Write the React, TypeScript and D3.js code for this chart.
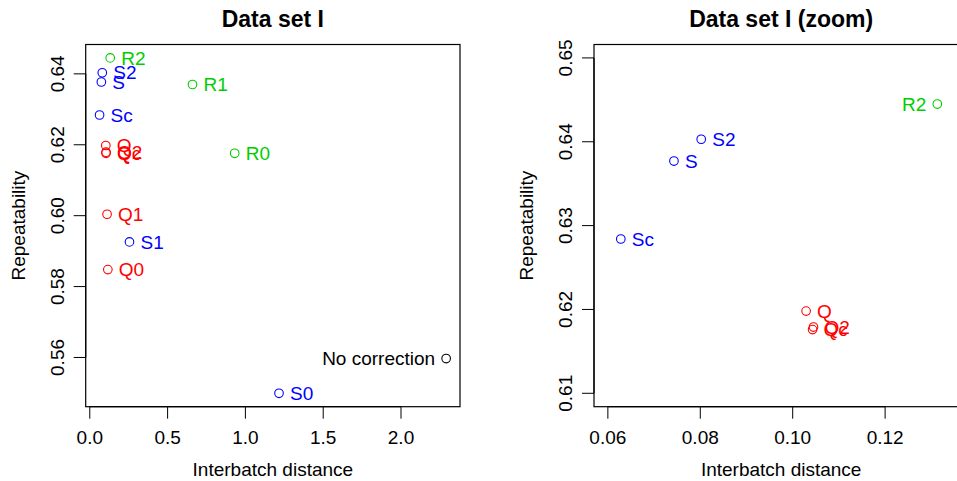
import React from "react";
import * as d3 from "d3";

// Data set I: interbatch distance vs repeatability
const labels = ["No correction", "Q", "Q0", "Q1", "Q2", "Qc", "S", "S0", "S1", "S2", "Sc", "R0", "R1", "R2"];
const groups = ["none", "Q", "Q", "Q", "Q", "Q", "S", "S", "S", "S", "S", "R", "R", "R"];
const distance = [2.29, 0.1029, 0.116, 0.111, 0.1045, 0.1043, 0.0743, 1.216, 0.255, 0.0802, 0.0628, 0.931, 0.66, 0.1313];
const repeatability = [0.5597, 0.6198, 0.5848, 0.6004, 0.6179, 0.6176, 0.6377, 0.5499, 0.5926, 0.6403, 0.6284, 0.6176, 0.637, 0.6445];
// label position: 2 = left of point, 4 = right of point
const labelPos = [2, 4, 4, 4, 4, 4, 4, 4, 4, 4, 4, 4, 4, 4];

const leftXTicks = [0, 0.5, 1, 1.5, 2];
const leftYTicks = [0.56, 0.58, 0.6, 0.62, 0.64];
const zoomXLim = [0.06, 0.135];
const zoomYLim = [0.61, 0.65];
const zoomXTicks = [0.06, 0.08, 0.1, 0.12];
const zoomYTicks = [0.61, 0.62, 0.63, 0.64, 0.65];
const zoomLabelPos = { R2: 2 } as Record<string, number>;

const colorOf: Record<string, string> = { none: "#000000", Q: "#FF0000", S: "#0000FF", R: "#00CD00" };
const FONT = "'Liberation Sans', Arial, Helvetica, sans-serif";
const FS = 19;

function ext(lim: number[]) {
  const r = lim[1] - lim[0];
  return [lim[0] - 0.04 * r, lim[1] + 0.04 * r];
}

type PanelProps = {
  left: number;
  right: number;
  top: number;
  bottom: number;
  xDomain: number[];
  yDomain: number[];
  xTicks: number[];
  yTicks: number[];
  xFmt: (v: number) => string;
  yFmt: (v: number) => string;
  title: string;
  zoom: boolean;
};

function Panel(p: PanelProps) {
  const x = d3.scaleLinear().domain(p.xDomain).range([p.left, p.right]);
  const y = d3.scaleLinear().domain(p.yDomain).range([p.bottom, p.top]);
  const tick = 12;
  const cx = (p.left + p.right) / 2;
  const cy = (p.top + p.bottom) / 2;
  const pts = labels
    .map((l, i) => ({ l, i, xv: distance[i], yv: repeatability[i] }))
    .filter(
      (d) => d.xv >= p.xDomain[0] && d.xv <= p.xDomain[1] && d.yv >= p.yDomain[0] && d.yv <= p.yDomain[1]
    );
  return (
    <g fontFamily={FONT}>
      <text x={cx} y={27} textAnchor="middle" fontWeight="bold" fontSize={23}>
        {p.title}
      </text>
      <rect x={p.left} y={p.top} width={p.right - p.left} height={p.bottom - p.top} fill="none" stroke="#000" strokeWidth={1.2} />
      {/* x axis */}
      <line x1={x(p.xTicks[0])} x2={x(p.xTicks[p.xTicks.length - 1])} y1={p.bottom} y2={p.bottom} stroke="#000" strokeWidth={1.2} />
      {p.xTicks.map((t) => (
        <g key={"xt" + t}>
          <line x1={x(t)} x2={x(t)} y1={p.bottom} y2={p.bottom + tick} stroke="#000" strokeWidth={1} />
          <text x={x(t)} y={443.5} textAnchor="middle" fontSize={FS}>
            {p.xFmt(t)}
          </text>
        </g>
      ))}
      <text x={cx} y={476} textAnchor="middle" fontSize={FS}>
        Interbatch distance
      </text>
      {/* y axis */}
      <line x1={p.left} x2={p.left} y1={y(p.yTicks[0])} y2={y(p.yTicks[p.yTicks.length - 1])} stroke="#000" strokeWidth={1.2} />
      {p.yTicks.map((t) => (
        <g key={"yt" + t}>
          <line x1={p.left - tick} x2={p.left} y1={y(t)} y2={y(t)} stroke="#000" strokeWidth={1} />
          <text
            transform={`translate(${p.left - 22},${y(t)}) rotate(-90)`}
            textAnchor="middle"
            fontSize={FS}
          >
            {p.yFmt(t)}
          </text>
        </g>
      ))}
      <text transform={`translate(${p.left - 61},${cy}) rotate(-90)`} textAnchor="middle" fontSize={FS}>
        Repeatability
      </text>
      {/* points */}
      <g>
        {pts.map((d) => {
          const pos = p.zoom ? zoomLabelPos[d.l] ?? 4 : labelPos[d.i];
          const col = colorOf[groups[d.i]];
          const px = x(d.xv);
          const py = y(d.yv);
          return (
            <g key={d.l}>
              <circle cx={px} cy={py} r={4.3} fill="none" stroke={col} strokeWidth={1.1} />
              <text
                x={pos === 4 ? px + 11 : px - 11}
                y={py}
                dy="0.35em"
                textAnchor={pos === 4 ? "start" : "end"}
                fontSize={FS}
                fill={col}
              >
                {d.l}
              </text>
            </g>
          );
        })}
      </g>
    </g>
  );
}

export default function App() {
  const leftX = ext([d3.min(distance)!, d3.max(distance)!]);
  const leftY = ext([d3.min(repeatability)!, d3.max(repeatability)!]);
  const f1 = d3.format(".1f");
  const f2 = d3.format(".2f");
  return (
    <svg
      width={957}
      height={481}
      style={{ position: "absolute", left: 0, top: 0, background: "#fff" }}
    >
      <rect width={957} height={481} fill="#fff" />
      <Panel
        left={85.7}
        right={460}
        top={44.5}
        bottom={406.7}
        xDomain={leftX}
        yDomain={leftY}
        xTicks={leftXTicks}
        yTicks={leftYTicks}
        xFmt={f1}
        yFmt={f2}
        title="Data set I"
        zoom={false}
      />
      <Panel
        left={594}
        right={968.3}
        top={44.5}
        bottom={406.7}
        xDomain={ext(zoomXLim)}
        yDomain={ext(zoomYLim)}
        xTicks={zoomXTicks}
        yTicks={zoomYTicks}
        xFmt={f2}
        yFmt={f2}
        title="Data set I (zoom)"
        zoom={true}
      />
    </svg>
  );
}
